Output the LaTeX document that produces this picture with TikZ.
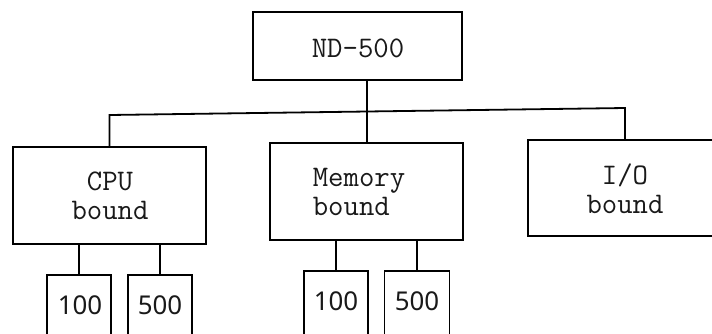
\documentclass[tikz,border=0pt]{standalone}
\usepackage{fontspec}
\newfontfamily\numfont{Noto Sans}
\begin{document}
\begin{tikzpicture}[x=1bp,y=-1bp,
  box/.style={draw=black, line width=1.8bp, minimum width=#1, inner sep=0pt, outer sep=0pt, rectangle},
  lbl/.style={font=\ttfamily\addfontfeatures{FakeBold=1.6}\fontsize{30}{29}\selectfont, text=black!90, inner sep=0pt},
  num/.style={font=\numfont\fontsize{26}{26}\selectfont, text=black!90, inner sep=0pt},
  wire/.style={line width=1.8bp, black}]
\useasboundingbox (0,0) rectangle (712,333);
\clip (0,0) rectangle (712,333);
% boxes
\node[box=209bp, minimum height=68bp] (nd) at (357.5,46) {};
\node[box=193bp, minimum height=97bp] (cpu) at (109.5,195.5) {};
\node[box=193bp, minimum height=97bp] (mem) at (366.5,191.5) {};
\node[box=194bp, minimum height=96bp] (io) at (625,188) {};
% leaves
\node[box=64bp, minimum height=90bp] (c1) at (79,320) {};
\node[box=64bp, minimum height=90bp] (c5) at (160,320) {};
\node[box=64bp, minimum height=90bp] (m1) at (336,316) {};
\node[box=65bp, minimum height=90bp] (m5) at (417,316) {};
% texts
\node[lbl] (tnd) at (358,48) {ND-500};
\node[lbl, align=center] (tcpu) at (110,196) {CPU\\bound};
\node[lbl, align=left] (tmem) at (359,192) {Memory\\bound};
\node[lbl, align=center] (tio) at (625,188.5) {I/O\\bound};
\node[num] (t1) at (80,305) {100};
\node[num] (t2) at (160,305) {500};
\node[num] (t3) at (336,301) {100};
\node[num] (t4) at (417,301) {500};
% connectors
\coordinate (bl) at (109.5,115);
\coordinate (j) at (367,111.5);
\coordinate (br) at (625,108);
\draw[wire] (nd.south -| j) -- (j);
\draw[wire] (cpu.north) -- (bl) -- (j) -- (br) -- (io.north);
\draw[wire] (j) -- (j |- mem.north);
\draw[wire] (c1.north) -- (c1.north |- cpu.south);
\draw[wire] (c5.north) -- (c5.north |- cpu.south);
\draw[wire] (m1.north) -- (m1.north |- mem.south);
\draw[wire] (m5.north) -- (m5.north |- mem.south);
\end{tikzpicture}
\end{document}
